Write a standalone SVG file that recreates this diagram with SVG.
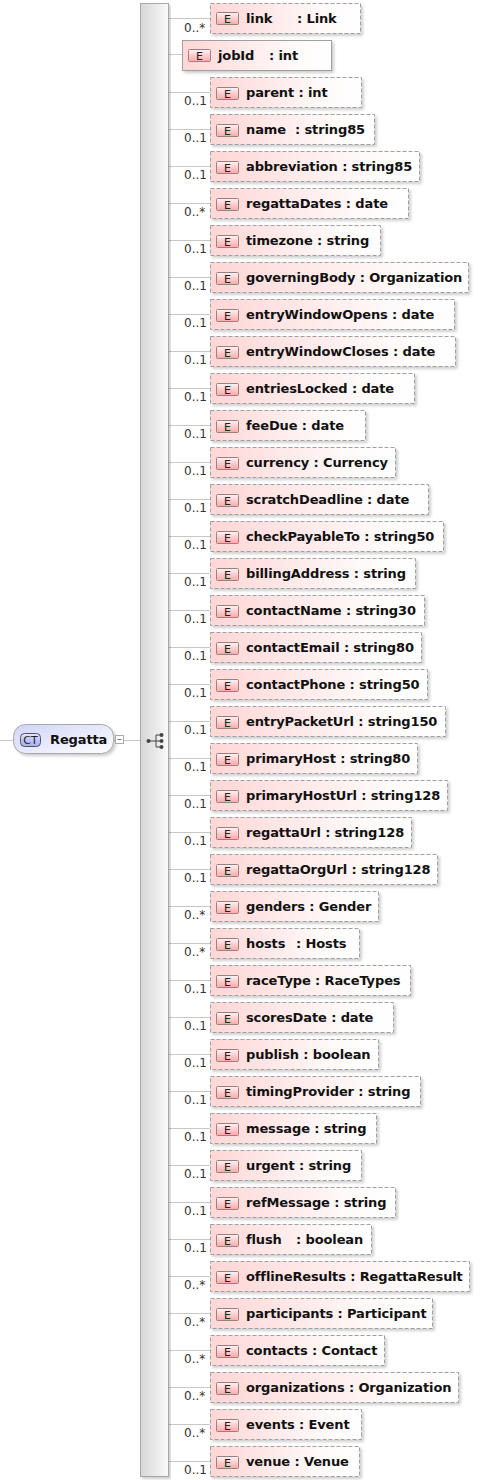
<svg xmlns="http://www.w3.org/2000/svg" width="483" height="1480" viewBox="0 0 483 1480">
<style>
.b{fill:url(#bg);stroke:#a0a0a0;stroke-width:1;stroke-dasharray:4 2;filter:url(#sh)}
.s{stroke-dasharray:none}
.e{fill:url(#eg);stroke:#9a8080;stroke-width:1}
.et{font:11px "DejaVu Sans",sans-serif;fill:#222;text-anchor:middle}
.t{font:bold 13px "DejaVu Sans",sans-serif;letter-spacing:-.12px;fill:#111}
.m{font:12px "DejaVu Sans",sans-serif;fill:#333}
.l{stroke:#c8c8c8;stroke-width:1;fill:none}
</style>
<defs>
<linearGradient id="bg"><stop offset="0" stop-color="#ffd6d6"/><stop offset=".75" stop-color="#fffafa"/><stop offset="1" stop-color="#ffffff"/></linearGradient>
<linearGradient id="eg" x1="0" y1="0" x2="0" y2="1"><stop offset="0" stop-color="#fff4f4"/><stop offset=".45" stop-color="#ffd0d0"/><stop offset="1" stop-color="#ffa8a8"/></linearGradient>
<linearGradient id="bar"><stop offset="0" stop-color="#d6d6d6"/><stop offset="1" stop-color="#fafafa"/></linearGradient>
<linearGradient id="ct" x1="0" y1="0" x2="1" y2="1"><stop offset="0" stop-color="#d0d4f8"/><stop offset="1" stop-color="#ffffff"/></linearGradient>
<linearGradient id="ctb" x1="0" y1="0" x2="0" y2="1"><stop offset="0" stop-color="#e8e8ff"/><stop offset=".5" stop-color="#c0c4ff"/><stop offset="1" stop-color="#a8acf8"/></linearGradient>
<filter id="sh" x="-5%" y="-15%" width="112%" height="135%"><feDropShadow dx="2" dy="2" stdDeviation="1.5" flood-color="#000" flood-opacity=".2"/></filter>
</defs>
<g id="connectors">
<path class="l" d="M0 740.500H14M114 740.500H146M169 18.500H210M169 54.500H183M169 92.500H210M169 129.500H210M169 166.500H210M169 203.500H210M169 240.500H210M169 277.500H210M169 314.500H210M169 351.500H210M169 388.500H210M169 425.500H210M169 462.500H210M169 499.500H210M169 536.500H210M169 573.500H210M169 610.500H210M169 647.500H210M169 684.500H210M169 721.500H210M169 758.500H210M169 795.500H210M169 832.500H210M169 869.500H210M169 906.500H210M169 943.500H210M169 980.500H210M169 1017.500H210M169 1054.500H210M169 1091.500H210M169 1128.500H210M169 1165.500H210M169 1202.500H210M169 1239.500H210M169 1276.500H210M169 1313.500H210M169 1350.500H210M169 1387.500H210M169 1424.500H210M169 1461.500H210"/>
<text class="m" x="184" y="32">0..*</text><text class="m" x="184" y="105">0..1</text><text class="m" x="184" y="142">0..1</text><text class="m" x="184" y="179">0..1</text><text class="m" x="184" y="216">0..*</text><text class="m" x="184" y="253">0..1</text><text class="m" x="184" y="290">0..1</text><text class="m" x="184" y="327">0..1</text><text class="m" x="184" y="364">0..1</text><text class="m" x="184" y="401">0..1</text><text class="m" x="184" y="438">0..1</text><text class="m" x="184" y="475">0..1</text><text class="m" x="184" y="512">0..1</text><text class="m" x="184" y="549">0..1</text><text class="m" x="184" y="586">0..1</text><text class="m" x="184" y="623">0..1</text><text class="m" x="184" y="660">0..1</text><text class="m" x="184" y="697">0..1</text><text class="m" x="184" y="734">0..1</text><text class="m" x="184" y="771">0..1</text><text class="m" x="184" y="808">0..1</text><text class="m" x="184" y="845">0..1</text><text class="m" x="184" y="882">0..1</text><text class="m" x="184" y="919">0..*</text><text class="m" x="184" y="956">0..*</text><text class="m" x="184" y="993">0..1</text><text class="m" x="184" y="1030">0..1</text><text class="m" x="184" y="1067">0..1</text><text class="m" x="184" y="1104">0..1</text><text class="m" x="184" y="1141">0..1</text><text class="m" x="184" y="1178">0..1</text><text class="m" x="184" y="1215">0..1</text><text class="m" x="184" y="1252">0..1</text><text class="m" x="184" y="1289">0..*</text><text class="m" x="184" y="1326">0..*</text><text class="m" x="184" y="1363">0..*</text><text class="m" x="184" y="1400">0..*</text><text class="m" x="184" y="1437">0..*</text><text class="m" x="184" y="1474">0..1</text>
</g>
<g id="Regatta">
<rect x="13.500" y="724.500" width="100" height="29" rx="12" fill="url(#ct)" stroke="#a8a8a8" filter="url(#sh)"/>
<rect x="20.500" y="733.500" width="20" height="13" rx="4" fill="url(#ctb)" stroke="#555"/>
<text x="30.500" y="744" font-family="DejaVu Sans,sans-serif" font-size="11" fill="#222" text-anchor="middle">CT</text>
<text x="50" y="744" class="t">Regatta</text>
<rect x="115.500" y="735.500" width="8" height="8" fill="#fff" stroke="#aaa"/><path d="M117.500 739.500h4" stroke="#777"/>
</g>
<g id="sequence">
<rect x="140.500" y="3.500" width="28" height="1473" fill="url(#bar)" stroke="#a8a8a8" filter="url(#sh)"/>
<path d="M148 741H156M156 735V747M156 735H161M156 741H161M156 747H161" stroke="#444" fill="none"/>
<circle cx="148.500" cy="741" r="2" fill="#444"/><circle cx="161.500" cy="735" r="2" fill="#444"/><circle cx="161.500" cy="741" r="2" fill="#444"/><circle cx="161.500" cy="747" r="2" fill="#444"/>
</g>
<g id="n-link"><rect class="b" x="210.500" y="3.500" width="150" height="30"/><rect class="e" x="216.500" y="12.500" width="22" height="12" rx="1"/><text class="et" x="227.500" y="23">E</text><text class="t" x="246" y="23">link<tspan x="297">: Link</tspan></text></g>
<g id="n-jobId"><rect class="b s" x="182.500" y="40.500" width="149" height="30"/><rect class="e" x="188.500" y="49.500" width="22" height="12" rx="1"/><text class="et" x="199.500" y="60">E</text><text class="t" x="218" y="60">jobId<tspan x="269">: int</tspan></text></g>
<g id="n-parent" transform="translate(0,77)"><rect class="b" x="210.500" y=".5" width="151" height="30"/><rect class="e" x="216.500" y="10.500" width="22" height="12" rx="1"/><text class="et" x="227.500" y="21">E</text><text class="t" x="246" y="20">parent : int</text></g>
<g id="n-name" transform="translate(0,114)"><rect class="b" x="210.500" y=".5" width="164" height="30"/><rect class="e" x="216.500" y="10.500" width="22" height="12" rx="1"/><text class="et" x="227.500" y="21">E</text><text class="t" x="246" y="20">name<tspan x="295">: string85</tspan></text></g>
<g id="n-abbreviation" transform="translate(0,151)"><rect class="b" x="210.500" y=".5" width="209" height="30"/><rect class="e" x="216.500" y="10.500" width="22" height="12" rx="1"/><text class="et" x="227.500" y="21">E</text><text class="t" x="246" y="20">abbreviation : string85</text></g>
<g id="n-regattaDates" transform="translate(0,188)"><rect class="b" x="210.500" y=".5" width="198" height="30"/><rect class="e" x="216.500" y="10.500" width="22" height="12" rx="1"/><text class="et" x="227.500" y="21">E</text><text class="t" x="246" y="20">regattaDates : date</text></g>
<g id="n-timezone" transform="translate(0,225)"><rect class="b" x="210.500" y=".5" width="170" height="30"/><rect class="e" x="216.500" y="10.500" width="22" height="12" rx="1"/><text class="et" x="227.500" y="21">E</text><text class="t" x="246" y="20">timezone : string</text></g>
<g id="n-governingBody" transform="translate(0,262)"><rect class="b" x="210.500" y=".5" width="258" height="30"/><rect class="e" x="216.500" y="10.500" width="22" height="12" rx="1"/><text class="et" x="227.500" y="21">E</text><text class="t" x="246" y="20">governingBody : Organization</text></g>
<g id="n-entryWindowOpens" transform="translate(0,299)"><rect class="b" x="210.500" y=".5" width="244" height="30"/><rect class="e" x="216.500" y="10.500" width="22" height="12" rx="1"/><text class="et" x="227.500" y="21">E</text><text class="t" x="246" y="20">entryWindowOpens : date</text></g>
<g id="n-entryWindowCloses" transform="translate(0,336)"><rect class="b" x="210.500" y=".5" width="245" height="30"/><rect class="e" x="216.500" y="10.500" width="22" height="12" rx="1"/><text class="et" x="227.500" y="21">E</text><text class="t" x="246" y="20">entryWindowCloses : date</text></g>
<g id="n-entriesLocked" transform="translate(0,373)"><rect class="b" x="210.500" y=".5" width="204" height="30"/><rect class="e" x="216.500" y="10.500" width="22" height="12" rx="1"/><text class="et" x="227.500" y="21">E</text><text class="t" x="246" y="20">entriesLocked : date</text></g>
<g id="n-feeDue" transform="translate(0,410)"><rect class="b" x="210.500" y=".5" width="155" height="30"/><rect class="e" x="216.500" y="10.500" width="22" height="12" rx="1"/><text class="et" x="227.500" y="21">E</text><text class="t" x="246" y="20">feeDue : date</text></g>
<g id="n-currency" transform="translate(0,447)"><rect class="b" x="210.500" y=".5" width="185" height="30"/><rect class="e" x="216.500" y="10.500" width="22" height="12" rx="1"/><text class="et" x="227.500" y="21">E</text><text class="t" x="246" y="20">currency : Currency</text></g>
<g id="n-scratchDeadline" transform="translate(0,484)"><rect class="b" x="210.500" y=".5" width="218" height="30"/><rect class="e" x="216.500" y="10.500" width="22" height="12" rx="1"/><text class="et" x="227.500" y="21">E</text><text class="t" x="246" y="20">scratchDeadline : date</text></g>
<g id="n-checkPayableTo" transform="translate(0,521)"><rect class="b" x="210.500" y=".5" width="233" height="30"/><rect class="e" x="216.500" y="10.500" width="22" height="12" rx="1"/><text class="et" x="227.500" y="21">E</text><text class="t" x="246" y="20">checkPayableTo : string50</text></g>
<g id="n-billingAddress" transform="translate(0,558)"><rect class="b" x="210.500" y=".5" width="205" height="30"/><rect class="e" x="216.500" y="10.500" width="22" height="12" rx="1"/><text class="et" x="227.500" y="21">E</text><text class="t" x="246" y="20">billingAddress : string</text></g>
<g id="n-contactName" transform="translate(0,595)"><rect class="b" x="210.500" y=".5" width="214" height="30"/><rect class="e" x="216.500" y="10.500" width="22" height="12" rx="1"/><text class="et" x="227.500" y="21">E</text><text class="t" x="246" y="20">contactName : string30</text></g>
<g id="n-contactEmail" transform="translate(0,632)"><rect class="b" x="210.500" y=".5" width="211" height="30"/><rect class="e" x="216.500" y="10.500" width="22" height="12" rx="1"/><text class="et" x="227.500" y="21">E</text><text class="t" x="246" y="20">contactEmail : string80</text></g>
<g id="n-contactPhone" transform="translate(0,669)"><rect class="b" x="210.500" y=".5" width="217" height="30"/><rect class="e" x="216.500" y="10.500" width="22" height="12" rx="1"/><text class="et" x="227.500" y="21">E</text><text class="t" x="246" y="20">contactPhone : string50</text></g>
<g id="n-entryPacketUrl" transform="translate(0,706)"><rect class="b" x="210.500" y=".5" width="235" height="30"/><rect class="e" x="216.500" y="10.500" width="22" height="12" rx="1"/><text class="et" x="227.500" y="21">E</text><text class="t" x="246" y="20">entryPacketUrl : string150</text></g>
<g id="n-primaryHost" transform="translate(0,743)"><rect class="b" x="210.500" y=".5" width="207" height="30"/><rect class="e" x="216.500" y="10.500" width="22" height="12" rx="1"/><text class="et" x="227.500" y="21">E</text><text class="t" x="246" y="20">primaryHost : string80</text></g>
<g id="n-primaryHostUrl" transform="translate(0,780)"><rect class="b" x="210.500" y=".5" width="237" height="30"/><rect class="e" x="216.500" y="10.500" width="22" height="12" rx="1"/><text class="et" x="227.500" y="21">E</text><text class="t" x="246" y="20">primaryHostUrl : string128</text></g>
<g id="n-regattaUrl" transform="translate(0,817)"><rect class="b" x="210.500" y=".5" width="201" height="30"/><rect class="e" x="216.500" y="10.500" width="22" height="12" rx="1"/><text class="et" x="227.500" y="21">E</text><text class="t" x="246" y="20">regattaUrl : string128</text></g>
<g id="n-regattaOrgUrl" transform="translate(0,854)"><rect class="b" x="210.500" y=".5" width="227" height="30"/><rect class="e" x="216.500" y="10.500" width="22" height="12" rx="1"/><text class="et" x="227.500" y="21">E</text><text class="t" x="246" y="20">regattaOrgUrl : string128</text></g>
<g id="n-genders" transform="translate(0,891)"><rect class="b" x="210.500" y=".5" width="168" height="30"/><rect class="e" x="216.500" y="10.500" width="22" height="12" rx="1"/><text class="et" x="227.500" y="21">E</text><text class="t" x="246" y="20">genders : Gender</text></g>
<g id="n-hosts" transform="translate(0,928)"><rect class="b" x="210.500" y=".5" width="149" height="30"/><rect class="e" x="216.500" y="10.500" width="22" height="12" rx="1"/><text class="et" x="227.500" y="21">E</text><text class="t" x="246" y="20">hosts<tspan x="296">: Hosts</tspan></text></g>
<g id="n-raceType" transform="translate(0,965)"><rect class="b" x="210.500" y=".5" width="200" height="30"/><rect class="e" x="216.500" y="10.500" width="22" height="12" rx="1"/><text class="et" x="227.500" y="21">E</text><text class="t" x="246" y="20">raceType : RaceTypes</text></g>
<g id="n-scoresDate" transform="translate(0,1002)"><rect class="b" x="210.500" y=".5" width="183" height="30"/><rect class="e" x="216.500" y="10.500" width="22" height="12" rx="1"/><text class="et" x="227.500" y="21">E</text><text class="t" x="246" y="20">scoresDate : date</text></g>
<g id="n-publish" transform="translate(0,1039)"><rect class="b" x="210.500" y=".5" width="168" height="30"/><rect class="e" x="216.500" y="10.500" width="22" height="12" rx="1"/><text class="et" x="227.500" y="21">E</text><text class="t" x="246" y="20">publish : boolean</text></g>
<g id="n-timingProvider" transform="translate(0,1076)"><rect class="b" x="210.500" y=".5" width="210" height="30"/><rect class="e" x="216.500" y="10.500" width="22" height="12" rx="1"/><text class="et" x="227.500" y="21">E</text><text class="t" x="246" y="20">timingProvider : string</text></g>
<g id="n-message" transform="translate(0,1113)"><rect class="b" x="210.500" y=".5" width="166" height="30"/><rect class="e" x="216.500" y="10.500" width="22" height="12" rx="1"/><text class="et" x="227.500" y="21">E</text><text class="t" x="246" y="20">message : string</text></g>
<g id="n-urgent" transform="translate(0,1150)"><rect class="b" x="210.500" y=".5" width="151" height="30"/><rect class="e" x="216.500" y="10.500" width="22" height="12" rx="1"/><text class="et" x="227.500" y="21">E</text><text class="t" x="246" y="20">urgent : string</text></g>
<g id="n-refMessage" transform="translate(0,1187)"><rect class="b" x="210.500" y=".5" width="185" height="30"/><rect class="e" x="216.500" y="10.500" width="22" height="12" rx="1"/><text class="et" x="227.500" y="21">E</text><text class="t" x="246" y="20">refMessage : string</text></g>
<g id="n-flush" transform="translate(0,1224)"><rect class="b" x="210.500" y=".5" width="161" height="30"/><rect class="e" x="216.500" y="10.500" width="22" height="12" rx="1"/><text class="et" x="227.500" y="21">E</text><text class="t" x="246" y="20">flush<tspan x="296">: boolean</tspan></text></g>
<g id="n-offlineResults" transform="translate(0,1261)"><rect class="b" x="210.500" y=".5" width="259" height="30"/><rect class="e" x="216.500" y="10.500" width="22" height="12" rx="1"/><text class="et" x="227.500" y="21">E</text><text class="t" x="246" y="20">offlineResults : RegattaResult</text></g>
<g id="n-participants" transform="translate(0,1298)"><rect class="b" x="210.500" y=".5" width="222" height="30"/><rect class="e" x="216.500" y="10.500" width="22" height="12" rx="1"/><text class="et" x="227.500" y="21">E</text><text class="t" x="246" y="20">participants : Participant</text></g>
<g id="n-contacts" transform="translate(0,1335)"><rect class="b" x="210.500" y=".5" width="174" height="30"/><rect class="e" x="216.500" y="10.500" width="22" height="12" rx="1"/><text class="et" x="227.500" y="21">E</text><text class="t" x="246" y="20">contacts : Contact</text></g>
<g id="n-organizations" transform="translate(0,1372)"><rect class="b" x="210.500" y=".5" width="248" height="30"/><rect class="e" x="216.500" y="10.500" width="22" height="12" rx="1"/><text class="et" x="227.500" y="21">E</text><text class="t" x="246" y="20">organizations : Organization</text></g>
<g id="n-events" transform="translate(0,1409)"><rect class="b" x="210.500" y=".5" width="151" height="30"/><rect class="e" x="216.500" y="10.500" width="22" height="12" rx="1"/><text class="et" x="227.500" y="21">E</text><text class="t" x="246" y="20">events : Event</text></g>
<g id="n-venue" transform="translate(0,1446)"><rect class="b" x="210.500" y=".5" width="149" height="30"/><rect class="e" x="216.500" y="10.500" width="22" height="12" rx="1"/><text class="et" x="227.500" y="21">E</text><text class="t" x="246" y="20">venue : Venue</text></g>
</svg>
